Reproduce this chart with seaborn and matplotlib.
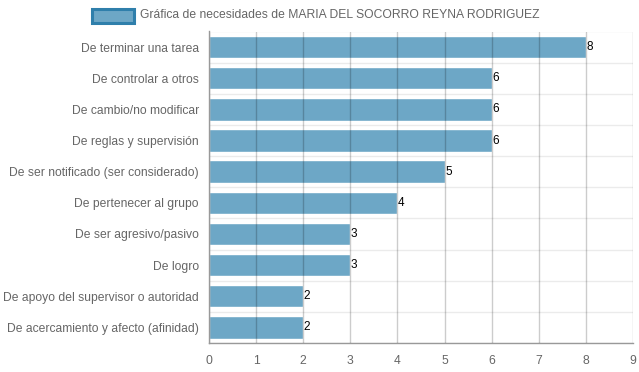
import matplotlib
matplotlib.use("Agg")
import matplotlib.pyplot as plt
import seaborn as sns
import pandas as pd
import numpy as np
from matplotlib.patches import Rectangle

categories = [
    "De terminar una tarea",
    "De controlar a otros",
    "De cambio/no modificar",
    "De reglas y supervisión",
    "De ser notificado (ser considerado)",
    "De pertenecer al grupo",
    "De ser agresivo/pasivo",
    "De logro",
    "De apoyo del supervisor o autoridad",
    "De acercamiento y afecto (afinidad)",
]
values = [8, 6, 6, 6, 5, 4, 3, 3, 2, 2]
x_ticks = [0, 1, 2, 3, 4, 5, 6, 7, 8, 9]
legend_label = "Gráfica de necesidades de MARIA DEL SOCORRO REYNA RODRIGUEZ"

sns.set_theme(style="white")
plt.rcParams["font.family"] = ["Liberation Sans", "DejaVu Sans"]

bar_color = "#6DA7C6"
border_color = "#2F7FAB"

df = pd.DataFrame({"cat": categories, "val": values})

fig = plt.figure(figsize=(6.39, 3.72), dpi=100)
ax = fig.add_axes([209 / 639, 1 - 343 / 372, (633 - 209) / 639, (343 - 31.5) / 372])

sns.barplot(data=df, x="val", y="cat", orient="h", color=bar_color, saturation=1,
            width=0.72, ax=ax, zorder=2)

ax.set_xlim(0, 9)
ax.set_ylim(len(categories) - 0.5, -0.5)
ax.set_xticks(x_ticks)
ax.set_xticklabels([str(t) for t in x_ticks])
ax.set_xlabel("")
ax.set_ylabel("")

# vertical grid on top
for t in x_ticks:
    ax.axvline(t, color=(0, 0, 0, 0.2), lw=1, zorder=3)

# horizontal separators
ax.set_yticks(np.arange(-0.5, len(categories), 1), minor=True)
ax.grid(axis="y", which="minor", color="#ebebeb", lw=1, zorder=0)
ax.grid(axis="y", which="major", visible=False)

for s in ["top", "right"]:
    ax.spines[s].set_visible(False)
ax.spines["left"].set_color("#999999")
ax.spines["bottom"].set_color("#999999")
ax.spines["left"].set_linewidth(1)
ax.spines["bottom"].set_linewidth(1)
ax.spines["left"].set_zorder(4)

ax.tick_params(axis="x", which="major", length=7, color="#cccccc", labelsize=8.7,
               labelcolor="#666666", pad=1.5)
ax.tick_params(axis="y", which="major", length=0, labelsize=8.7, labelcolor="#666666", pad=7.2)
ax.tick_params(axis="y", which="minor", length=9, color="#ebebeb")

for c in ax.containers:
    ax.bar_label(c, labels=[str(v) for v in values], padding=0.5, fontsize=8.5, color="black")

# legend
fig.patches.append(Rectangle((92 / 639, 1 - 23 / 372), 42 / 639, 14 / 372,
                             transform=fig.transFigure, facecolor=bar_color,
                             edgecolor=border_color, lw=2.2))
fig.text(140 / 639, 1 - 15 / 372, legend_label, fontsize=8.7, color="#666666",
         va="center", ha="left")

fig.savefig("out.png", dpi=100)
